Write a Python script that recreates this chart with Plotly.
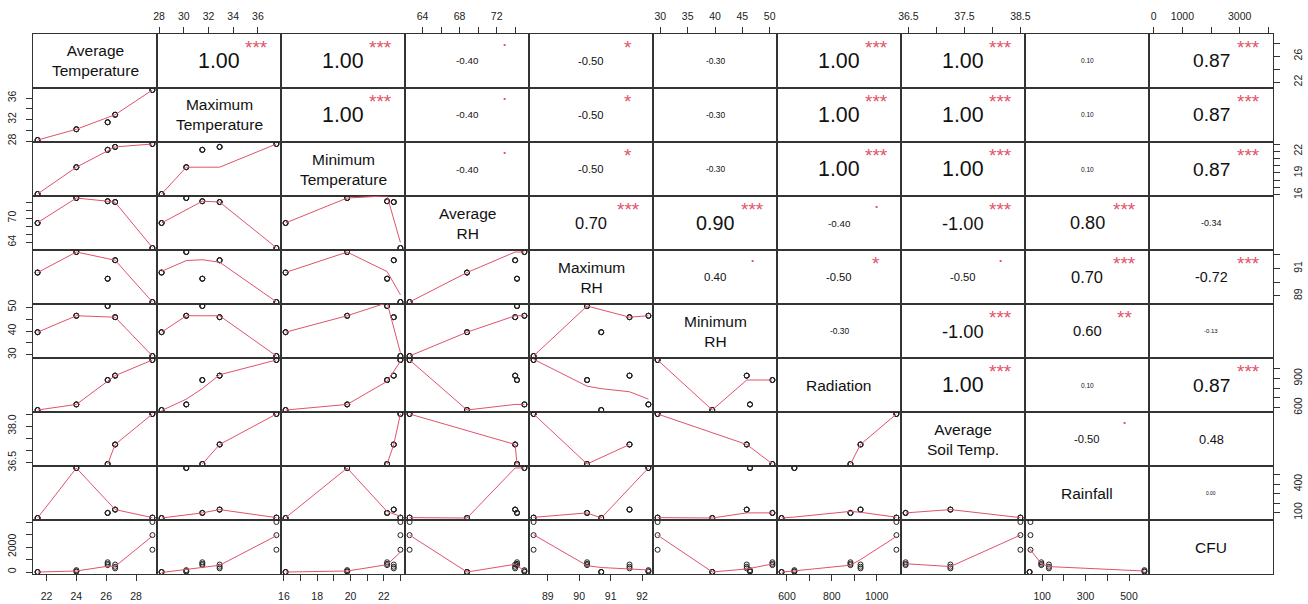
import numpy as np
import plotly.graph_objects as go

# ---------------- data (15 rows: 5 weather conditions x 3 replicates) -------------
var_labels = ["Average<br>Temperature", "Maximum<br>Temperature", "Minimum<br>Temperature",
              "Average<br>RH", "Maximum<br>RH", "Minimum<br>RH", "Radiation",
              "Average<br>Soil Temp.", "Rainfall", "CFU"]

avg_temp = [21.4, 21.4, 21.4, 24.0, 24.0, 24.0, 26.1, 26.1, 26.1, 26.6, 26.6, 26.6, 29.1, 29.1, 29.1]
max_temp = [28.2, 28.2, 28.2, 30.2, 30.2, 30.2, 31.5, 31.5, 31.5, 32.9, 32.9, 32.9, 37.5, 37.5, 37.5]
min_temp = [16.1, 16.1, 16.1, 19.8, 19.8, 19.8, 22.2, 22.2, 22.2, 22.6, 22.6, 22.6, 23.0, 23.0, 23.0]
avg_rh = [68.8, 68.8, 68.8, 75.0, 75.0, 75.0, 74.2, 74.2, 74.2, 74.0, 74.0, 74.0, 62.6, 62.6, 62.6]
max_rh = [90.7, 90.7, 90.7, 92.2, 92.2, 92.2, 90.25, 90.25, 90.25, 91.6, 91.6, 91.6, 88.55, 88.55, 88.55]
min_rh = [39.5, 39.5, 39.5, 46.4, 46.4, 46.4, 50.5, 50.5, 50.5, 45.8, 45.8, 45.8, 29.5, 29.5, 29.5]
radiation = [576, 576, 576, 633, 633, 633, 883, 883, 883, 928, 928, 928, 1088, 1088, 1088]
soil_temp = [None, None, None, None, None, None, 36.45, 36.45, 36.45, 37.25, 37.25, 37.25, 38.5, 38.5, 38.5]
rainfall = [42, 42, 42, 571, 571, 571, 96, 96, 96, 131, 131, 131, 46, 46, 46]
cfu = [0, 0, 0, 30, 60, 150, 550, 650, 780, 290, 420, 600, 1780, 2950, 4000]

columns = [avg_temp, max_temp, min_temp, avg_rh, max_rh, min_rh, radiation, soil_temp, rainfall, cfu]

# correlation text (upper panels) and significance stars
cor_text = [
    [None, "1.00", "1.00", "-0.40", "-0.50", "-0.30", "1.00", "1.00", "0.10", "0.87"],
    [None, None, "1.00", "-0.40", "-0.50", "-0.30", "1.00", "1.00", "0.10", "0.87"],
    [None, None, None, "-0.40", "-0.50", "-0.30", "1.00", "1.00", "0.10", "0.87"],
    [None, None, None, None, "0.70", "0.90", "-0.40", "-1.00", "0.80", "-0.34"],
    [None, None, None, None, None, "0.40", "-0.50", "-0.50", "0.70", "-0.72"],
    [None, None, None, None, None, None, "-0.30", "-1.00", "0.60", "-0.13"],
    [None, None, None, None, None, None, None, "1.00", "0.10", "0.87"],
    [None, None, None, None, None, None, None, None, "-0.50", "0.48"],
    [None, None, None, None, None, None, None, None, None, "0.00"],
    [None] * 10,
]
cor_stars = [
    ["", "***", "***", ".", "*", "", "***", "***", "", "***"],
    ["", "", "***", ".", "*", "", "***", "***", "", "***"],
    ["", "", "", ".", "*", "", "***", "***", "", "***"],
    ["", "", "", "", "***", "***", ".", "***", "***", ""],
    ["", "", "", "", "", ".", "*", ".", "***", "***"],
    ["", "", "", "", "", "", "", "***", "**", ""],
    ["", "", "", "", "", "", "", "***", "", "***"],
    ["", "", "", "", "", "", "", "", ".", ""],
    ["", "", "", "", "", "", "", "", "", ""],
    [""] * 10,
]

# tick values and labels (x side: top for even columns / bottom for odd; y side: left for even rows / right for odd)
tick_vals = [
    [22, 24, 26, 28],
    [28, 30, 32, 34, 36],
    [16, 17, 18, 19, 20, 21, 22, 23],
    [64, 66, 68, 70, 72, 74],
    [89, 90, 91, 92],
    [30, 35, 40, 45, 50],
    [600, 700, 800, 900, 1000],
    [36.5, 37.0, 37.5, 38.0, 38.5],
    [100, 200, 300, 400, 500],
    [0, 1000, 2000, 3000, 4000],
]
x_tick_text = [
    ["22", "24", "26", "28"],
    ["28", "30", "32", "34", "36"],
    ["16", "", "18", "", "20", "", "22", ""],
    ["64", "", "68", "", "72", ""],
    ["89", "90", "91", "92"],
    ["30", "35", "40", "45", "50"],
    ["600", "", "800", "", "1000"],
    ["36.5", "", "37.5", "", "38.5"],
    ["100", "", "300", "", "500"],
    ["0", "1000", "", "3000", ""],
]
y_tick_text = [
    ["22", "", "26", ""],
    ["28", "", "32", "", "36"],
    ["16", "", "", "19", "", "", "22", ""],
    ["64", "", "", "70", "", ""],
    ["89", "", "91", ""],
    ["30", "", "40", "", "50"],
    ["600", "", "", "900", ""],
    ["36.5", "", "", "38.0", ""],
    ["100", "", "", "400", ""],
    ["0", "", "2000", "", ""],
]


# ---------------- R's lowess (clowess), used by panel.smooth ----------------
def _lowest(x, y, n, xs, nleft, nright, userw, rw):
    rng = x[n - 1] - x[0]
    h = max(xs - x[nleft], x[nright] - xs)
    h9 = 0.999 * h
    h1 = 0.001 * h
    w = np.zeros(n)
    a = 0.0
    j = nleft
    while j < n:
        w[j] = 0.0
        r = abs(x[j] - xs)
        if r <= h9:
            if r <= h1:
                w[j] = 1.0
            else:
                w[j] = (1 - (r / h) ** 3) ** 3
            if userw:
                w[j] *= rw[j]
            a += w[j]
        elif x[j] > xs:
            break
        j += 1
    nrt = j - 1
    if a <= 0:
        return 0.0, False
    idx = range(nleft, nrt + 1)
    for jj in idx:
        w[jj] /= a
    if h > 0:
        a = sum(w[jj] * x[jj] for jj in idx)
        b = xs - a
        c = sum(w[jj] * (x[jj] - a) ** 2 for jj in idx)
        if np.sqrt(c) > 0.001 * rng:
            b /= c
            for jj in idx:
                w[jj] *= (b * (x[jj] - a) + 1)
    return sum(w[jj] * y[jj] for jj in idx), True


def r_lowess(x, y, f=2 / 3, nsteps=3):
    x = np.asarray(x, float)
    y = np.asarray(y, float)
    o = np.argsort(x, kind="stable")
    x = x[o]
    y = y[o]
    n = len(x)
    if n < 2:
        return x, y.copy()
    delta = 0.01 * (x.max() - x.min())
    ys = np.zeros(n)
    rw = np.ones(n)
    ns = max(min(int(f * n + 1e-7), n), 2)
    it = 1
    while it <= nsteps + 1:
        nleft, nright, last, i = 0, ns - 1, -1, 0
        while True:
            if nright < n - 1:
                d1 = x[i] - x[nleft]
                d2 = x[nright + 1] - x[i]
                if d1 > d2:
                    nleft += 1
                    nright += 1
                    continue
            val, ok = _lowest(x, y, n, x[i], nleft, nright, it > 1, rw)
            ys[i] = val if ok else y[i]
            if last < i - 1:
                denom = x[i] - x[last]
                for j in range(last + 1, i):
                    alpha = (x[j] - x[last]) / denom
                    ys[j] = alpha * ys[i] + (1 - alpha) * ys[last]
            last = i
            cut = x[last] + delta
            i = last + 1
            while i < n:
                if x[i] > cut:
                    break
                if x[i] == x[last]:
                    ys[i] = ys[last]
                    last = i
                i += 1
            i = max(last + 1, i - 1)
            if last >= n - 1:
                break
        res = y - ys
        sc = np.sum(np.abs(res)) / n
        if it > nsteps:
            break
        srt = np.sort(np.abs(res))
        m1 = n // 2
        if n % 2 == 0:
            cmad = 3.0 * (srt[m1] + srt[n - m1 - 1])
        else:
            cmad = 6.0 * srt[m1]
        if cmad < 1e-7 * sc:
            break
        c9, c1 = 0.999 * cmad, 0.001 * cmad
        for k in range(n):
            r = abs(res[k])
            if r <= c1:
                rw[k] = 1.0
            elif r <= c9:
                rw[k] = (1 - (r / cmad) ** 2) ** 2
            else:
                rw[k] = 0.0
        it += 1
    return x, ys


# ---------------- figure ----------------
N = len(columns)
arr = [np.array([np.nan if v is None else v for v in col], float) for col in columns]
ranges = []
for a in arr:
    lo, hi = np.nanmin(a), np.nanmax(a)
    d = hi - lo
    ranges.append([lo - 0.04 * d, hi + 0.04 * d])

FONT = "Liberation Sans, Arial, sans-serif"
LINE = "#333333"
SMOOTH = "#DF536B"

fig = go.Figure()
layout = dict(width=1308, height=604, margin=dict(l=33, r=35, t=34, b=30, autoexpand=False),
              paper_bgcolor="white", plot_bgcolor="white", showlegend=False,
              font=dict(family=FONT, color="#000000"))
annotations = []

tickfont = dict(family=FONT, size=10.5, color="#222222")


def em_width(s):
    w = 0.0
    for ch in s:
        if ch.isdigit():
            w += 0.556
        elif ch == ".":
            w += 0.278
        elif ch == "-":
            w += 0.333
        else:
            w += 0.5
    return w


for r in range(1, N + 1):
    for c in range(1, N + 1):
        k = (r - 1) * N + c
        sfx = "" if k == 1 else str(k)
        xa = dict(domain=[(c - 1) / N, c / N], anchor="y" + sfx, range=ranges[c - 1],
                  showline=True, mirror=True, linecolor=LINE, linewidth=1,
                  showgrid=False, zeroline=False, ticks="", showticklabels=False,
                  fixedrange=True, automargin=False)
        ya = dict(domain=[1 - r / N, 1 - (r - 1) / N], anchor="x" + sfx, range=ranges[r - 1],
                  showline=True, mirror=True, linecolor=LINE, linewidth=1,
                  showgrid=False, zeroline=False, ticks="", showticklabels=False,
                  fixedrange=True, automargin=False)
        if r == 1 and c % 2 == 0:
            xa.update(side="top", ticks="outside", ticklen=6, tickwidth=1, tickcolor=LINE,
                      tickmode="array", tickvals=tick_vals[c - 1], ticktext=x_tick_text[c - 1],
                      showticklabels=True, tickfont=tickfont, ticklabelstandoff=3)
        if r == N and c % 2 == 1:
            xa.update(side="bottom", ticks="outside", ticklen=6, tickwidth=1, tickcolor=LINE,
                      tickmode="array", tickvals=tick_vals[c - 1], ticktext=x_tick_text[c - 1],
                      showticklabels=True, tickfont=tickfont, ticklabelstandoff=6)
        if c == 1 and r % 2 == 0:
            ya.update(side="left", ticks="outside", ticklen=6, tickwidth=1, tickcolor=LINE,
                      tickmode="array", tickvals=tick_vals[r - 1], ticktext=y_tick_text[r - 1],
                      showticklabels=True, tickfont=tickfont, tickangle=-90, ticklabelstandoff=6)
        if c == N and r % 2 == 1:
            ya.update(side="right", ticks="outside", ticklen=6, tickwidth=1, tickcolor=LINE,
                      tickmode="array", tickvals=tick_vals[r - 1], ticktext=y_tick_text[r - 1],
                      showticklabels=True, tickfont=tickfont, tickangle=-90, ticklabelstandoff=9)
        layout["xaxis" + sfx] = xa
        layout["yaxis" + sfx] = ya

        xref, yref = "x" + sfx + " domain", "y" + sfx + " domain"
        if r > c:
            xv, yv = arr[c - 1], arr[r - 1]
            ok = np.isfinite(xv) & np.isfinite(yv)
            xs, ysm = r_lowess(xv[ok], yv[ok])
            fig.add_trace(go.Scatter(x=xv[ok], y=yv[ok], mode="markers",
                                     xaxis="x" + sfx, yaxis="y" + sfx, hoverinfo="skip",
                                     marker=dict(symbol="circle-open", size=5,
                                                 color="#222222", line=dict(width=1))))
            fig.add_trace(go.Scatter(x=xs, y=ysm, mode="lines",
                                     xaxis="x" + sfx, yaxis="y" + sfx, hoverinfo="skip",
                                     line=dict(color=SMOOTH, width=1)))
        else:
            # invisible placeholder so that the panel (frame and axes) is drawn
            fig.add_trace(go.Scatter(x=[np.mean(ranges[c - 1])], y=[np.mean(ranges[r - 1])],
                                     mode="markers", marker=dict(opacity=0),
                                     xaxis="x" + sfx, yaxis="y" + sfx, hoverinfo="skip"))
            if r == c:
                annotations.append(dict(text=var_labels[r - 1], x=0.5, y=0.5, xref=xref, yref=yref,
                                        xanchor="center", yanchor="middle", showarrow=False,
                                        font=dict(family=FONT, size=15.5, color="#111111")))
            else:
                txt = cor_text[r - 1][c - 1]
                rv = abs(float(txt))
                fs = 32.0 * (rv + 0.3) / em_width(txt)
                annotations.append(dict(text=txt, x=0.5, y=0.5, xref=xref, yref=yref,
                                        xanchor="center", yanchor="middle", showarrow=False,
                                        font=dict(family=FONT, size=fs, color="#111111")))
                st = cor_stars[r - 1][c - 1]
                if st:
                    sfs = 19
                    shift = 0.3 * sfs if st == "." else -0.16 * sfs
                    annotations.append(dict(text=st, x=0.8, y=0.8, xref=xref, yref=yref,
                                            xanchor="center", yanchor="middle", showarrow=False,
                                            yshift=shift,
                                            font=dict(family=FONT, size=sfs, color=SMOOTH)))

layout["annotations"] = annotations
fig.update_layout(**layout)
fig.write_html("out.html", config={"displayModeBar": False},
               post_script="document.body.style.margin='0';document.body.style.overflow='hidden';")
